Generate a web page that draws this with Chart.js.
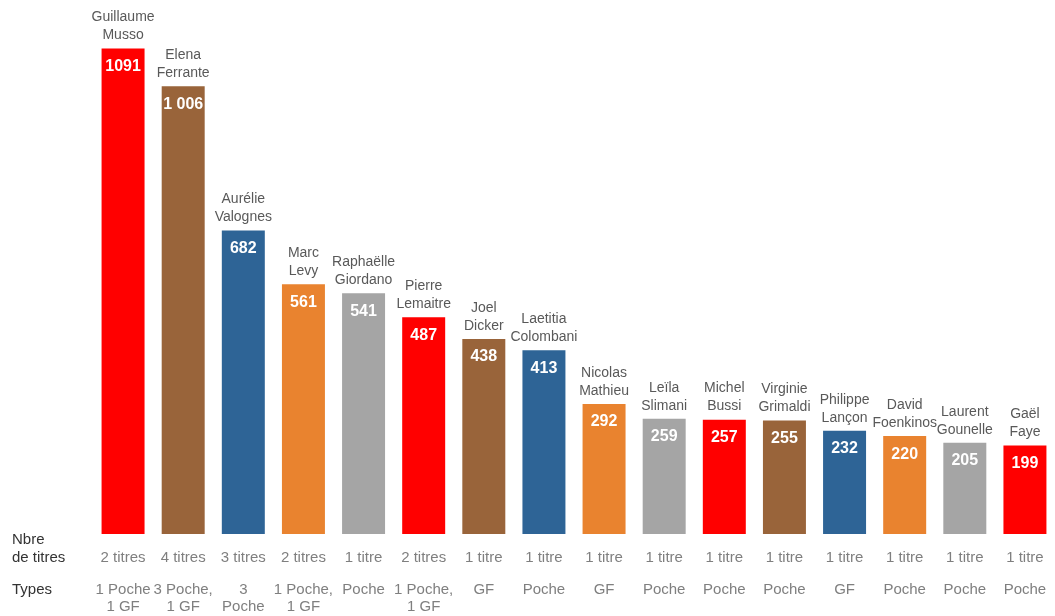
<!DOCTYPE html>
<html lang="fr">
<head>
<meta charset="UTF-8">
<title>Ventes par auteur</title>
<script src="https://cdn.jsdelivr.net/npm/chart.js@4.4.0/dist/chart.umd.min.js"></script>
<style>
  html, body { margin: 0; padding: 0; background: #fff; }
  #wrap { width: 1055px; height: 616px; position: relative; }
</style>
</head>
<body>
<div id="wrap"><canvas id="chart"></canvas></div>
<script>
// données
const authors = [
  ['Guillaume', 'Musso'], ['Elena', 'Ferrante'], ['Aurélie', 'Valognes'], ['Marc', 'Levy'],
  ['Raphaëlle', 'Giordano'], ['Pierre', 'Lemaitre'], ['Joel', 'Dicker'], ['Laetitia', 'Colombani'],
  ['Nicolas', 'Mathieu'], ['Leïla', 'Slimani'], ['Michel', 'Bussi'], ['Virginie', 'Grimaldi'],
  ['Philippe', 'Lançon'], ['David', 'Foenkinos'], ['Laurent', 'Gounelle'], ['Gaël', 'Faye']
];
const sales = [1091, 1006, 682, 561, 541, 487, 438, 413, 292, 259, 257, 255, 232, 220, 205, 199];
const saleLabels = ['1091', '1 006', '682', '561', '541', '487', '438', '413', '292', '259', '257', '255', '232', '220', '205', '199'];
const nbTitres = ['2 titres', '4 titres', '3 titres', '2 titres', '1 titre', '2 titres', '1 titre', '1 titre',
  '1 titre', '1 titre', '1 titre', '1 titre', '1 titre', '1 titre', '1 titre', '1 titre'];
const types = [
  ['1 Poche', '1 GF'], ['3 Poche,', '1 GF'], ['3', 'Poche'], ['1 Poche,', '1 GF'],
  ['Poche'], ['1 Poche,', '1 GF'], ['GF'], ['Poche'],
  ['GF'], ['Poche'], ['Poche'], ['Poche'], ['GF'], ['Poche'], ['Poche'], ['Poche']
];
const palette = ['#ff0000', '#99643a', '#2e6496', '#e9832f', '#a5a5a5'];
const barColors = sales.map((v, i) => palette[i % palette.length]);

const FONT = '"Liberation Sans", Arial, sans-serif';

const labelsPlugin = {
  id: 'labelsPlugin',
  afterDatasetsDraw(chart) {
    const {ctx} = chart;
    const meta = chart.getDatasetMeta(0);
    ctx.save();
    ctx.textAlign = 'center';
    ctx.textBaseline = 'middle';
    meta.data.forEach((bar, i) => {
      // valeur dans la barre
      ctx.font = 'bold 16px ' + FONT;
      ctx.fillStyle = '#ffffff';
      ctx.fillText(saleLabels[i], bar.x, bar.y + 18);
      // nom au-dessus
      ctx.font = '14px ' + FONT;
      ctx.fillStyle = '#595959';
      ctx.fillText(authors[i][0], bar.x, bar.y - 31);
      ctx.fillText(authors[i][1], bar.x, bar.y - 13);
      // lignes du bas
      ctx.font = '15px ' + FONT;
      ctx.fillStyle = '#7f7f7f';
      ctx.fillText(nbTitres[i], bar.x, 558);
      types[i].forEach((t, k) => ctx.fillText(t, bar.x, 590 + k * 17));
    });
    ctx.textAlign = 'left';
    ctx.font = '15px ' + FONT;
    ctx.fillStyle = '#333333';
    ctx.fillText('Nbre', 12, 540);
    ctx.fillText('de titres', 12, 558);
    ctx.fillText('Types', 12, 590);
    ctx.restore();
  }
};

new Chart(document.getElementById('chart'), {
  type: 'bar',
  data: {
    labels: authors.map(a => a.join(' ')),
    datasets: [{
      data: sales,
      backgroundColor: barColors,
      borderWidth: 0,
      barPercentage: 0.715,
      categoryPercentage: 1
    }]
  },
  options: {
    responsive: true,
    maintainAspectRatio: false,
    animation: false,
    layout: { padding: { left: 93, right: 0, top: 0, bottom: 82 } },
    scales: {
      x: { display: false },
      y: { display: false, min: 0, max: 1200 }
    },
    plugins: {
      legend: { display: false },
      tooltip: { enabled: false }
    }
  },
  plugins: [labelsPlugin]
});
</script>
</body>
</html>
